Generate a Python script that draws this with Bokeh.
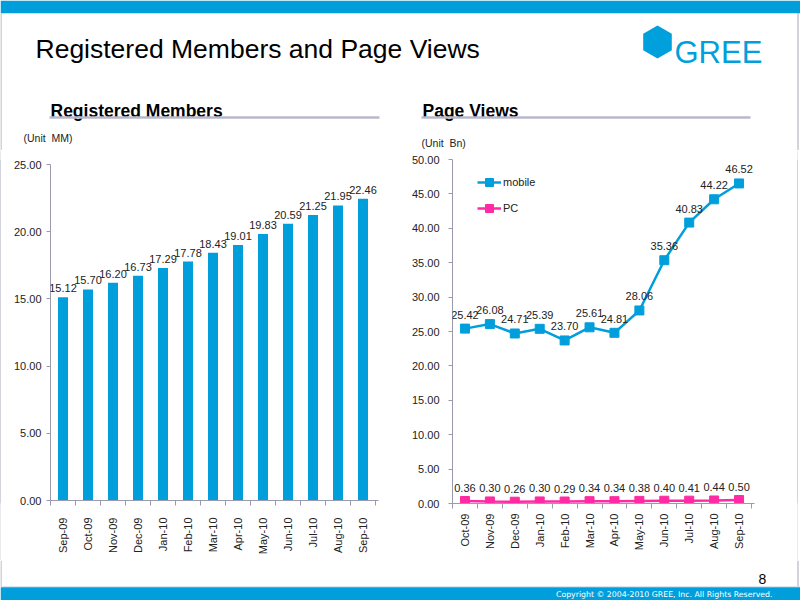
import math
import numpy as np
from bokeh.plotting import figure
from bokeh.layouts import column, row
from bokeh.models import (ColumnDataSource, Range1d, FixedTicker, Spacer, LabelSet,
                          PrintfTickFormatter, Legend, LegendItem)
from bokeh.core.properties import value
from bokeh.embed import file_html
from bokeh.resources import INLINE

# ---------------- data ----------------
member_months = ["Sep-09", "Oct-09", "Nov-09", "Dec-09", "Jan-10", "Feb-10", "Mar-10",
                 "Apr-10", "May-10", "Jun-10", "Jul-10", "Aug-10", "Sep-10"]
members = [15.12, 15.70, 16.20, 16.73, 17.29, 17.78, 18.43, 19.01, 19.83, 20.59, 21.25, 21.95, 22.46]

pv_months = ["Oct-09", "Nov-09", "Dec-09", "Jan-10", "Feb-10", "Mar-10", "Apr-10",
             "May-10", "Jun-10", "Jul-10", "Aug-10", "Sep-10"]
pv_mobile = [25.42, 26.08, 24.71, 25.39, 23.70, 25.61, 24.81, 28.06, 35.36, 40.83, 44.22, 46.52]
pv_pc = [0.36, 0.30, 0.26, 0.30, 0.29, 0.34, 0.34, 0.38, 0.40, 0.41, 0.44, 0.50]

members_ticks = [0, 5, 10, 15, 20, 25]
pv_ticks = [0, 5, 10, 15, 20, 25, 30, 35, 40, 45, 50]

# ---------------- styles ----------------
BLUE = "#009fdb"
PINK = "#ff2aa4"
AXIS = "#9a9aae"
BORDER = "#a8a8bc"
FONT = "Liberation Sans"


def blank(width, height, xr, yr):
    p = figure(width=width, height=height, x_range=Range1d(*xr), y_range=Range1d(*yr),
               x_axis_type=None, y_axis_type=None, toolbar_location=None,
               output_backend="svg", min_border=0)
    p.outline_line_color = None
    p.grid.visible = False
    p.background_fill_color = "white"
    p.border_fill_color = "white"
    return p


# ---------------- header ----------------
hdr = blank(800, 150, (0, 800), (150, 0))
hdr.quad(left=[0], right=[800], top=[0], bottom=[12.7], fill_color=BLUE, line_color=None)
hdr.segment(x0=[0.5, 797.5], y0=[12.7, 12.7], x1=[0.5, 797.5], y1=[150, 150],
            line_color=BORDER, line_width=1)
hdr.text(x=[35], y=[48], text=["Registered Members and Page Views"], text_font=value(FONT),
         text_font_size="26.5px", text_baseline="alphabetic", text_color="#000000")
ang = np.deg2rad(90 + 60 * np.arange(6))
hdr.patch(x=657 + 16.5 * np.cos(ang), y=41.5 + 16.5 * np.sin(ang), fill_color="#00a0dc", line_color=None)
hdr.text(x=[674], y=[51.7], text=["GREE"], text_font=value(FONT), text_font_size="31px",
         text_baseline="alphabetic", text_color="#00a0dc")
hdr.text(x=[50, 422], y=[110, 110], text=["Registered Members", "Page Views"],
         text_font=value(FONT), text_font_size="17.5px", text_font_style="bold",
         text_baseline="alphabetic", text_color="#000000")
hdr.quad(left=[49, 421], right=[379, 750], top=[115.7, 115.7], bottom=[118.3, 118.3],
         fill_color="#b8b8cc", line_color=None)
hdr.text(x=[23, 421], y=[137, 142], text=["(Unit\u00a0\u00a0MM)", "(Unit\u00a0\u00a0Bn)"],
         text_font=value(FONT), text_font_size="10.5px", text_baseline="middle", text_color="#222222")

# ---------------- left chart ----------------
n1 = len(members)
src1 = ColumnDataSource(dict(x=list(range(n1)), v=members, lab=["%.2f" % v for v in members]))
left = figure(width=399, height=402, x_range=Range1d(-0.5, n1 - 0.5 + 0.12), y_range=Range1d(0, 25),
              toolbar_location=None, output_backend="svg",
              min_border_left=49, min_border_right=22, min_border_top=9, min_border_bottom=57)
left.vbar(x="x", top="v", width=0.4, source=src1, fill_color=BLUE, line_color=None)
left.add_layout(LabelSet(x="x", y="v", text="lab", source=src1, text_align="center",
                         text_baseline="bottom", y_offset=5, text_font_size="11px",
                         text_color="#222222", text_font=value(FONT)))

# ---------------- right chart ----------------
n2 = len(pv_months)
src2 = ColumnDataSource(dict(x=list(range(n2)), m=pv_mobile, pc=pv_pc,
                             mlab=["%.2f" % v for v in pv_mobile], plab=["%.2f" % v for v in pv_pc]))
right = figure(width=397, height=410, x_range=Range1d(-0.5, n2 - 0.5 + 0.12), y_range=Range1d(0, 50),
               toolbar_location=None, output_backend="svg",
               min_border_left=52, min_border_right=43, min_border_top=9, min_border_bottom=57)
lm = right.line(x="x", y="m", source=src2, line_color=BLUE, line_width=2.5)
sm = right.scatter(x="x", y="m", source=src2, marker="square", size=9, fill_color=BLUE, line_color=BLUE)
lp = right.line(x="x", y="pc", source=src2, line_color=PINK, line_width=2.5)
sp = right.scatter(x="x", y="pc", source=src2, marker="square", size=9, fill_color=PINK, line_color=PINK)
right.add_layout(LabelSet(x="x", y="m", text="mlab", source=src2, text_align="center",
                          text_baseline="bottom", y_offset=10, text_font_size="11px",
                          text_color="#222222", text_font=value(FONT)))
right.add_layout(LabelSet(x="x", y="pc", text="plab", source=src2, text_align="center",
                          text_baseline="bottom", y_offset=9, text_font_size="11px",
                          text_color="#222222", text_font=value(FONT)))

legend = Legend(items=[LegendItem(label="mobile", renderers=[lm, sm]),
                       LegendItem(label="PC", renderers=[lp, sp])],
                location=(25, 285), margin=0, padding=0, spacing=6,
                glyph_width=24, glyph_height=20, label_height=20, label_standoff=2,
                label_text_font_size="11px", label_text_color="#222222",
                label_text_font=FONT, border_line_color=None, background_fill_alpha=0)
right.add_layout(legend)

for p, months, ticks, ystand in ((left, member_months, members_ticks, 5),
                                  (right, pv_months, pv_ticks, 9)):
    n = len(months)
    p.outline_line_color = None
    p.grid.visible = False
    p.background_fill_color = "white"
    p.border_fill_color = "white"
    xa = p.xaxis[0]
    xa.ticker = FixedTicker(ticks=list(range(n)), minor_ticks=[i - 0.5 for i in range(n + 1)])
    xa.major_label_overrides = {i: m for i, m in enumerate(months)}
    xa.major_label_orientation = math.pi / 2
    xa.major_tick_out = 0
    xa.major_tick_in = 0
    xa.minor_tick_out = 5
    xa.minor_tick_in = 0
    xa.major_label_standoff = 12 if p is left else 5
    ya = p.yaxis[0]
    ya.ticker = FixedTicker(ticks=ticks)
    ya.formatter = PrintfTickFormatter(format="%.2f")
    ya.major_tick_out = 4
    ya.major_tick_in = 0
    ya.minor_tick_out = 0
    ya.minor_tick_in = 0
    ya.major_label_standoff = ystand
    for a in (xa, ya):
        a.axis_line_color = AXIS
        a.major_tick_line_color = AXIS
        a.minor_tick_line_color = AXIS
        a.major_label_text_font = FONT
        a.major_label_text_font_size = "11px"
        a.major_label_text_color = "#222222"


def edge(width, color):
    e = blank(width, 410, (0, 1), (0, 1))
    e.background_fill_color = color
    e.border_fill_color = color
    return e


left_col = column(Spacer(width=399, height=5), left, Spacer(width=399, height=3))
mid = row(edge(1, BORDER), left_col, right, edge(1, BORDER))

# ---------------- footer ----------------
ftr = blank(800, 40, (0, 800), (600, 560))
ftr.segment(x0=[0.5, 797.5], y0=[560, 560], x1=[0.5, 797.5], y1=[586, 586], line_color=BORDER, line_width=1)
ftr.quad(left=[0], right=[800], top=[585.8], bottom=[586.8], fill_color="#c8dcec", line_color=None)
ftr.quad(left=[0], right=[800], top=[586.7], bottom=[600], fill_color=BLUE, line_color=None)
ftr.text(x=[758], y=[578], text=["8"], text_font=value(FONT), text_font_size="14px",
         text_baseline="alphabetic", text_color="#000000")
ftr.text(x=[772], y=[594], text=["Copyright \u00a9 2004-2010 GREE, Inc. All Rights Reserved."],
         text_font=value("DejaVu Sans"), text_font_size="7.8px", text_align="right", text_baseline="middle",
         text_color="#ffffff")

page = column(hdr, mid, ftr)
open("out.html", "w").write(file_html(page, INLINE))
